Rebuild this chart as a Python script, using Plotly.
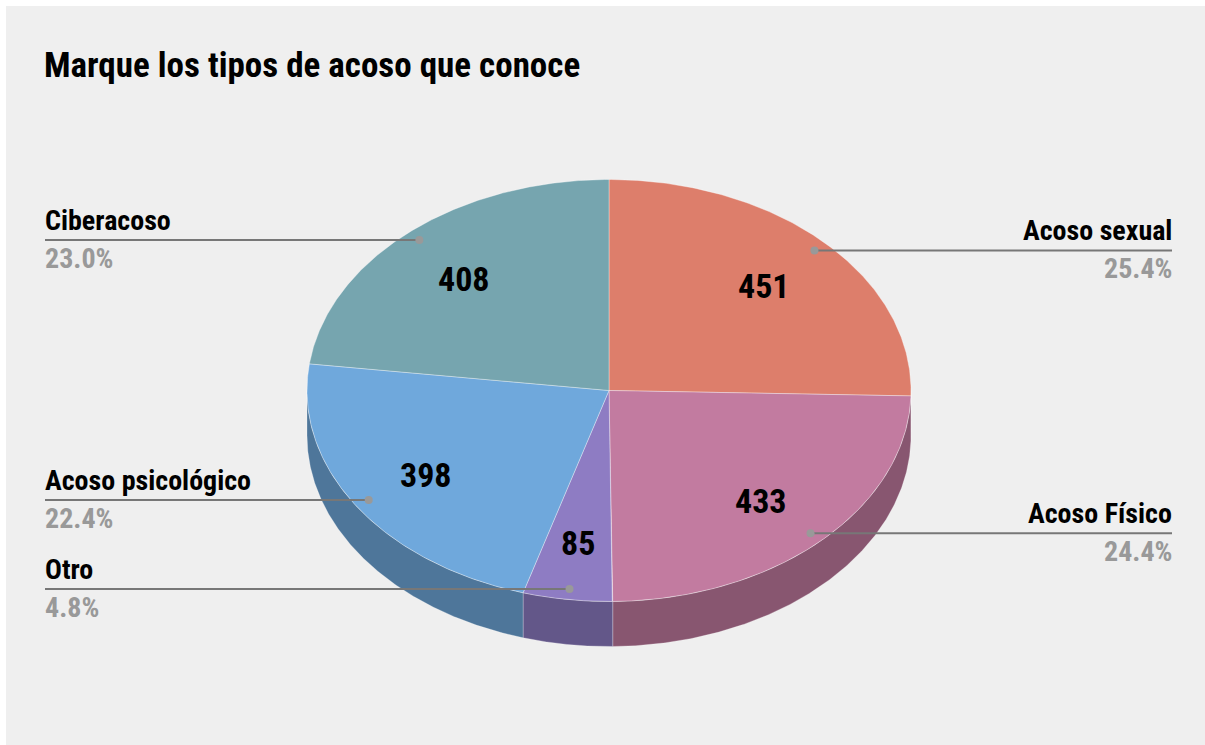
import math
import plotly.graph_objects as go

# ---- data ----
categories = ["Acoso sexual", "Acoso Físico", "Otro", "Acoso psicológico", "Ciberacoso"]
values = [451, 433, 85, 398, 408]
colors = ["#DD7E6B", "#C27BA0", "#8E7CC3", "#6FA8DC", "#76A5AF"]
side_colors = ["#9B5848", "#885670", "#635789", "#4E769A", "#52737A"]
label_side = ["right", "right", "left", "left", "left"]
title_text = "Marque los tipos de acoso que conoce"

# ---- layout parameters (pixel space) ----
W, H = 1205, 745
CX, CY, RX, RY, DEPTH = 609, 390.5, 302, 211, 45
LEFT_X, RIGHT_X = 45, 1172
TEXT_PAD = 2
FONT = "Roboto, sans-serif"
N = 200

total = sum(values)
fracs = [v / total for v in values]
starts = []
acc = 0.0
for f in fracs:
    starts.append(acc)
    acc += f


def cond(s):
    return f'<span style="font-stretch:condensed"><b>{s}</b></span>'


def pt(theta, r=1.0, dz=0.0):
    return CX + RX * r * math.sin(theta), CY - RY * r * math.cos(theta) + dz


fig = go.Figure()

# side walls (front half only)
for i, f in enumerate(fracs):
    a = 2 * math.pi * starts[i]
    b = 2 * math.pi * (starts[i] + f)
    lo, hi = max(a, math.pi / 2), min(b, 3 * math.pi / 2)
    if hi <= lo:
        continue
    ts = [lo + (hi - lo) * k / N for k in range(N + 1)]
    top = [pt(t) for t in ts]
    bot = [pt(t, dz=DEPTH) for t in reversed(ts)]
    poly = top + bot + [top[0]]
    fig.add_trace(go.Scatter(
        x=[p[0] for p in poly], y=[p[1] for p in poly], mode="lines",
        fill="toself", fillcolor=side_colors[i],
        line=dict(color="rgba(255,255,255,0.25)", width=1),
        hoverinfo="skip", showlegend=False))

# top faces
for i, f in enumerate(fracs):
    a = 2 * math.pi * starts[i]
    b = 2 * math.pi * (starts[i] + f)
    ts = [a + (b - a) * k / N for k in range(N + 1)]
    poly = [(CX, CY)] + [pt(t) for t in ts] + [(CX, CY)]
    fig.add_trace(go.Scatter(
        x=[p[0] for p in poly], y=[p[1] for p in poly], mode="lines",
        fill="toself", fillcolor=colors[i],
        line=dict(color="rgba(255,255,255,0.35)", width=1),
        name=categories[i], hoverinfo="name", showlegend=False))

annotations = []
# value labels + leader lines
for i, f in enumerate(fracs):
    mid = 2 * math.pi * (starts[i] + f / 2)
    vx, vy = pt(mid, 0.72)
    annotations.append(dict(x=vx - 1, y=vy + 2, xref="x", yref="y", text=cond(values[i]),
                            showarrow=False, font=dict(family=FONT, size=34, color="#000000"),
                            xanchor="center", yanchor="middle"))
    dx, dy = pt(mid, 0.95)
    ex = LEFT_X if label_side[i] == "left" else RIGHT_X
    tx = ex - TEXT_PAD if label_side[i] == "left" else ex + TEXT_PAD
    fig.add_trace(go.Scatter(x=[ex, dx], y=[dy, dy], mode="lines",
                             line=dict(color="#777777", width=2),
                             hoverinfo="skip", showlegend=False))
    fig.add_trace(go.Scatter(x=[dx], y=[dy], mode="markers",
                             marker=dict(color="#999999", size=8),
                             hoverinfo="skip", showlegend=False))
    anchor = "left" if label_side[i] == "left" else "right"
    annotations.append(dict(x=tx, y=dy - 20, xref="x", yref="y",
                            text=cond(categories[i]), showarrow=False,
                            font=dict(family=FONT, size=28, color="#000000"),
                            xanchor=anchor, yanchor="middle"))
    annotations.append(dict(x=tx, y=dy + 18, xref="x", yref="y",
                            text=cond(f"{fracs[i]*100:.1f}%"), showarrow=False,
                            font=dict(family=FONT, size=28, color="#999999"),
                            xanchor=anchor, yanchor="middle"))

annotations.append(dict(x=LEFT_X - 3, y=65, xref="x", yref="y", text=cond(title_text),
                        showarrow=False, font=dict(family=FONT, size=35, color="#000000"),
                        xanchor="left", yanchor="middle"))

fig.update_layout(
    width=W, height=H,
    margin=dict(l=0, r=0, t=0, b=0),
    paper_bgcolor="#FFFFFF", plot_bgcolor="#FFFFFF",
    xaxis=dict(range=[0, W], visible=False, fixedrange=True),
    yaxis=dict(range=[H, 0], visible=False, fixedrange=True),
    shapes=[dict(type="rect", xref="x", yref="y", x0=6, y0=6, x1=W, y1=H,
                 fillcolor="#EFEFEF", line=dict(width=0), layer="below")],
    annotations=annotations,
)

fig.write_html("out.html", config={"displayModeBar": False},
               post_script="document.body.style.margin='0';")
